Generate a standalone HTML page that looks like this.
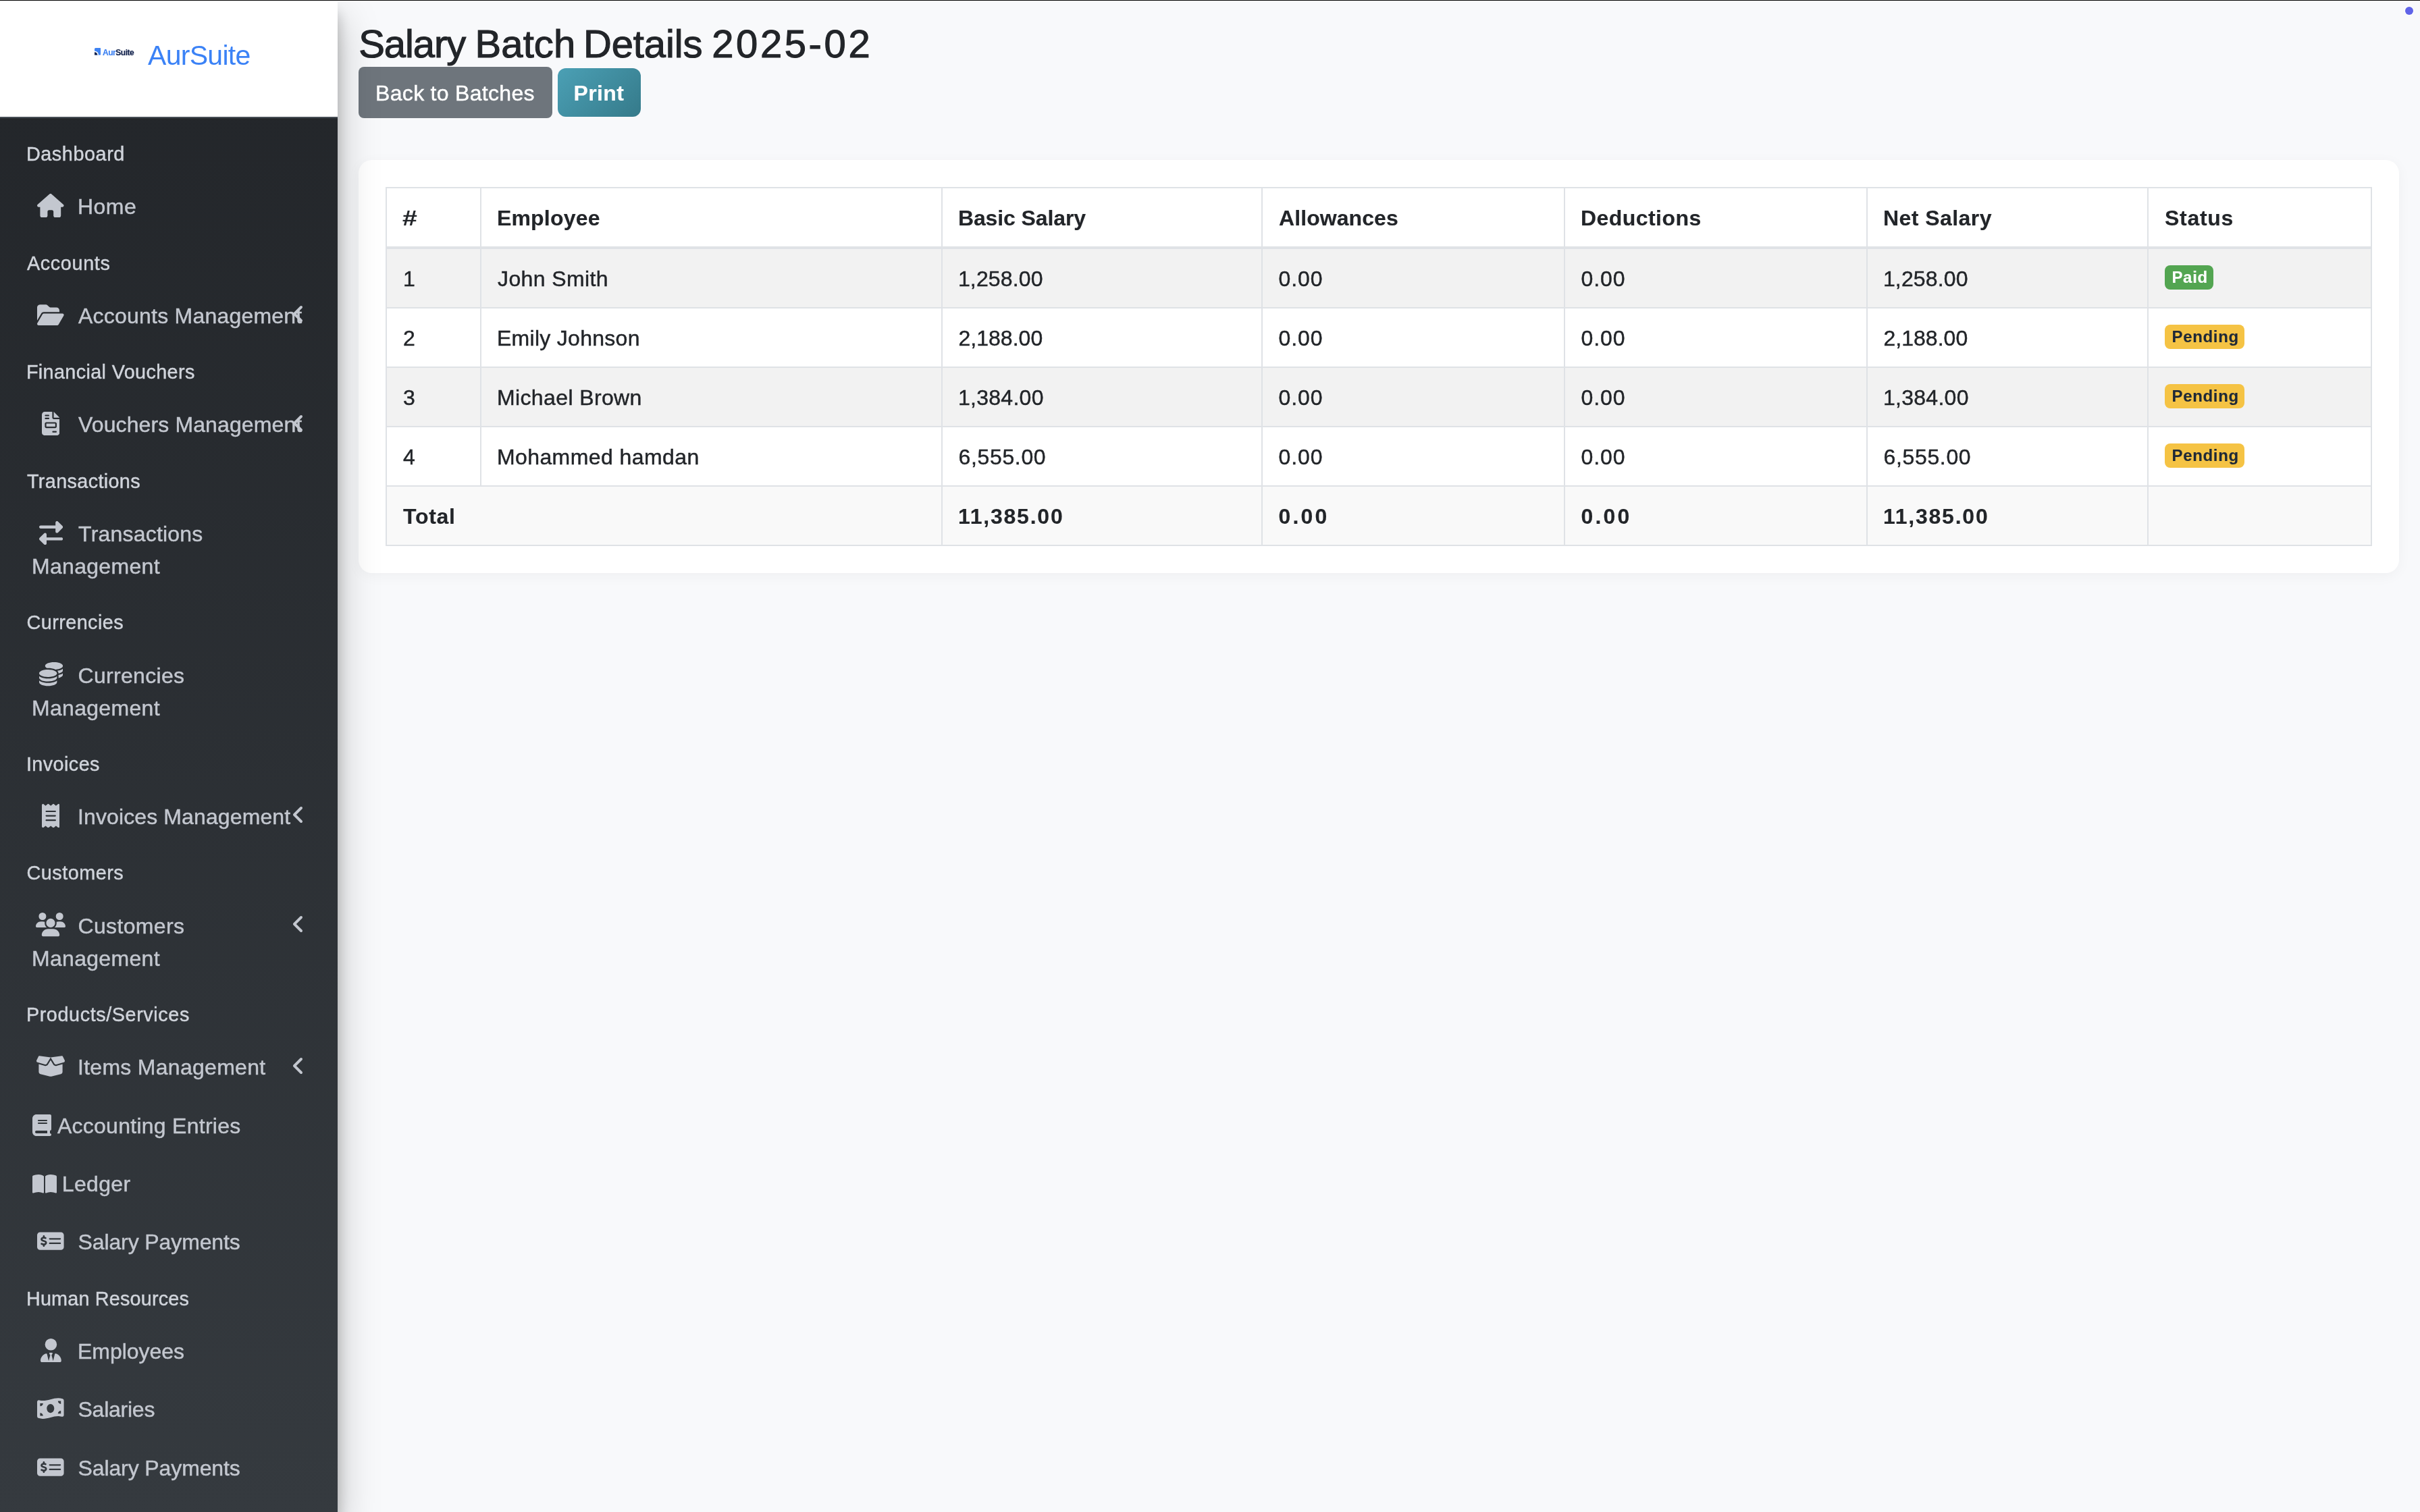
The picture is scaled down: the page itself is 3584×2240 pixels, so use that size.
<!DOCTYPE html>
<html lang="en"><head><meta charset="utf-8"><title>Salary Batch Details</title>
<style>
*{box-sizing:border-box}
html,body{margin:0;padding:0}
body{width:3584px;height:2240px;overflow:hidden;position:relative;background:#f8f9fb;font-family:"Liberation Sans",sans-serif;color:#222529;font-size:32px;line-height:48px;-webkit-text-stroke:.45px}
#topline{position:absolute;left:0;top:0;width:3584px;height:1px;background:#000;z-index:50}
#topline2{position:absolute;left:0;top:1px;width:3584px;height:1px;background:#fff;z-index:50}
aside{position:absolute;left:0;top:0;width:500px;height:2240px;background:linear-gradient(180deg,#222529 0%,#353a3f 100%);box-shadow:0 28px 56px rgba(0,0,0,.25),0 20px 20px rgba(0,0,0,.22);z-index:10}
.brand{position:relative;display:block;height:175px;background:linear-gradient(180deg,#fff 0,#fff 173px,#3f464e 173px,#3f464e 174px,#4d545b 174px,#4d545b 175px)}
.brand .logo{position:absolute;left:139.7px;top:71.4px;width:9.6px;height:10.6px}
.brand .logotxt{position:absolute;left:152px;top:67.5px;font-size:12px;line-height:20px;font-weight:bold;color:#0f1f4a;white-space:nowrap}
.brand .logotxt b{color:#3e82f2}
.brand .name{position:absolute;left:219px;top:51.5px;font-size:41px;line-height:60px;color:#3b82f6;white-space:nowrap}
nav{padding:15px 16px 0}
nav ul{list-style:none;margin:0;padding:0}
li.hd{height:75.2px;padding:17px 0 15px 24px;font-size:28.8px;line-height:43.2px;color:#d0d4db;white-space:nowrap}
li.it{margin-bottom:6.4px}
li.it a{display:block;position:relative;padding:17px 32px 15px;color:#c3c7cf;text-decoration:none;white-space:nowrap;line-height:48px}
li.it .ni{display:inline-block;width:51.2px;margin-left:1.6px;margin-right:6.4px;text-align:center;line-height:0}
li.it .ni svg{vertical-align:-5px}
li.it .pi svg{vertical-align:-4.5px}
li.it p{display:inline;margin:0}
li.it .ar{position:absolute;right:32px;top:22.4px;line-height:0}
main{position:absolute;left:531px;top:0;width:3022px}
h1 span{position:absolute;top:0}
h1{margin:0;position:absolute;left:0;top:29px;width:800px;height:72px;font-size:58px;line-height:72px;font-weight:normal;white-space:nowrap;-webkit-text-stroke:1.1px #222529}
.btn{position:absolute;display:block;text-align:center;color:#fff;white-space:nowrap;text-decoration:none}
.b1{left:0;top:99px;width:287px;height:76px;border-radius:8px;background:#6e757c;line-height:48px;padding-top:15px}
.b2{left:295px;top:101px;width:123px;height:72px;border-radius:12px;background:linear-gradient(135deg,#4ba0b5 0%,#357a8a 100%);font-weight:bold;line-height:48px;padding-top:13px}
.card{position:absolute;left:0;top:237px;width:3022px;height:612px;background:#fff;border-radius:20px;box-shadow:0 4px 20px rgba(0,0,0,.045);padding:40px}
table{border-collapse:separate;border-spacing:0;table-layout:fixed;width:2942px;margin:0}
th,td{border-left:2px solid #dfe2e6;border-bottom:2px solid #dfe2e6;padding:20px 24px 18px;text-align:left;white-space:nowrap;overflow:hidden;height:88px;line-height:48px;vertical-align:top}
th,tfoot td,.b2,.bdg,.logotxt{-webkit-text-stroke:.15px}
.brand .name{-webkit-text-stroke:0}
th{border-top:2px solid #dfe2e6;border-bottom-width:4px;padding:20px 24px 18px;height:92px;font-weight:bold}
th:last-child,td:last-child{border-right:2px solid #dfe2e6}
.hash{display:inline-block;transform:scaleX(1.22);transform-origin:0 50%;margin-left:-1px}
tbody tr:nth-child(odd) td{background:#f2f2f2}
tfoot td{background:#f9f9f9;font-weight:bold}
.bdg{display:inline-block;position:relative;top:-5px;height:36px;padding:6px 8.4px 6px 11px;border-radius:8px;font-size:24px;line-height:24px;font-weight:bold;vertical-align:baseline}
.bg-s{background:#53a551;color:#fff}
.bg-w{background:#f5c344;color:#1f2937}
main,aside{will-change:transform}
@media (width:1792px) and (min-resolution:2dppx){html{zoom:.5}}
#dot{position:absolute;left:3561.7px;top:9.7px;width:12.6px;height:12.6px;border-radius:50%;background:#5f63e8;box-shadow:0 0 2px 1px rgba(255,255,255,.85);z-index:60}
</style></head>
<body>
<div id="topline"></div><div id="topline2"></div>
<aside>
<a class="brand">
<svg class="logo" viewBox="0 0 96 106"><rect x="0" y="0" width="96" height="106" rx="16" fill="#3e82f2"/><path d="M0 46 A60 60 0 0 1 60 106 L0 106 Z" fill="#fff"/><path d="M0 62 A44 44 0 0 1 44 106 L0 106 Z" fill="#0f1f4a"/></svg>
<span class="logotxt" style="letter-spacing:-0.476px"><b>Aur</b>Suite</span>
<span class="name" style="letter-spacing:-.71px">AurSuite</span>
</a>
<nav><ul>
<li class="hd"><span style="letter-spacing:0.567px;margin-left:-1.1px">Dashboard</span></li>
<li class="it"><a><span class="ni"><svg class="" width="39.6" height="35.2" viewBox="0 0 576 512" style=""><path fill="currentColor" d="M575.8 255.5c0 18-15 32.1-32 32.1h-32l.7 160.2c0 2.7-.2 5.4-.5 8.1V472c0 22.1-17.9 40-40 40H456c-1.1 0-2.2 0-3.3-.1c-1.4 .1-2.8 .1-4.2 .1H416 392c-22.1 0-40-17.9-40-40V448 384c0-17.7-14.3-32-32-32H256c-17.7 0-32 14.3-32 32v64 24c0 22.1-17.9 40-40 40H160 128.1c-1.5 0-3-.1-4.5-.2c-1.2 .1-2.4 .2-3.600 .2H104c-22.1 0-40-17.900-40-40V360c0-.9 0-1.9 .1-2.8V287.6H32c-18 0-32-14-32-32.1c0-9 3-17 10-24L266.4 8c7-7 15-8 22-8s15 2 21 7L564.800 231.500c8 7 12 15 11 24z"/></svg></span> <p><span style="letter-spacing:0.479px;margin-left:-1.1px">Home</span></p></a></li>
<li class="hd"><span style="letter-spacing:0.621px">Accounts</span></li>
<li class="it"><a><span class="ni"><svg class="" width="39.6" height="35.2" viewBox="0 0 576 512" style=""><path fill="currentColor" d="M88.7 223.8L0 375.8V96C0 60.7 28.7 32 64 32H181.500c17 0 33.300 6.700 45.300 18.700l26.500 26.500c12 12 28.300 18.700 45.300 18.700H416c35.300 0 64 28.700 64 64v32H144c-22.800 0-43.800 12.100-55.300 31.800zm27.600 16.100C122.100 230 132.600 224 144 224H544c11.500 0 22 6.100 27.700 16.100s5.700 22.200-.1 32.100l-112 192C453.900 474 443.400 480 432 480H32c-11.500 0-22-6.100-27.700-16.100s-5.700-22.200 .1-32.100l112-192z"/></svg></span> <p><span style="letter-spacing:0.216px">Accounts Management</span></p><span class="ar"><svg class="" width="20.0" height="32" viewBox="0 0 320 512" style=""><path fill="currentColor" d="M41.400 233.400c-12.500 12.500-12.500 32.800 0 45.300l160 160c12.500 12.500 32.800 12.500 45.300 0s12.500-32.800 0-45.300L109.300 256 246.600 118.600c12.500-12.500 12.500-32.800 0-45.300s-32.800-12.500-45.300 0l-160 160z"/></svg></span></a></li>
<li class="hd"><span style="letter-spacing:0.358px;margin-left:-1.1px">Financial Vouchers</span></li>
<li class="it"><a><span class="ni"><svg class="" width="26.4" height="35.2" viewBox="0 0 384 512" style=""><path fill="currentColor" d="M64 0C28.7 0 0 28.7 0 64V448c0 35.300 28.700 64 64 64H320c35.300 0 64-28.700 64-64V160H256c-17.700 0-32-14.300-32-32V0H64zM256 0V128H384L256 0zM80 64h64c8.800 0 16 7.200 16 16s-7.200 16-16 16H80c-8.800 0-16-7.200-16-16s7.200-16 16-16zm0 64h64c8.800 0 16 7.200 16 16s-7.200 16-16 16H80c-8.800 0-16-7.200-16-16s7.200-16 16-16zm16 96H288c17.700 0 32 14.300 32 32v64c0 17.700-14.300 32-32 32H96c-17.700 0-32-14.300-32-32V256c0-17.700 14.300-32 32-32zm0 32v64H288V256H96zM240 416h64c8.800 0 16 7.200 16 16s-7.200 16-16 16H240c-8.800 0-16-7.200-16-16s7.200-16 16-16z"/></svg></span> <p><span style="letter-spacing:0.116px">Vouchers Management</span></p><span class="ar"><svg class="" width="20.0" height="32" viewBox="0 0 320 512" style=""><path fill="currentColor" d="M41.400 233.400c-12.500 12.500-12.500 32.800 0 45.300l160 160c12.500 12.500 32.800 12.500 45.300 0s12.500-32.800 0-45.300L109.300 256 246.600 118.600c12.500-12.500 12.500-32.800 0-45.300s-32.800-12.500-45.300 0l-160 160z"/></svg></span></a></li>
<li class="hd"><span style="letter-spacing:0.347px">Transactions</span></li>
<li class="it"><a><span class="ni"><svg class="" width="35.2" height="35.2" viewBox="0 0 512 512" style=""><path fill="currentColor" d="M32 96l320 0V32c0-12.900 7.800-24.600 19.800-29.600s25.700-2.200 34.900 6.900l96 96c6 6 9.400 14.100 9.400 22.600s-3.400 16.600-9.400 22.600l-96 96c-9.200 9.200-22.900 11.900-34.900 6.900s-19.800-16.600-19.800-29.600V160L32 160c-17.700 0-32-14.300-32-32s14.300-32 32-32zM480 352c17.700 0 32 14.300 32 32s-14.300 32-32 32H160v64c0 12.900-7.800 24.600-19.800 29.600s-25.700 2.200-34.900-6.900l-96-96c-6-6-9.400-14.100-9.400-22.600s3.400-16.600 9.400-22.600l96-96c9.200-9.200 22.900-11.900 34.900-6.900s19.800 16.600 19.800 29.600l0 64H480z"/></svg></span> <p><span style="letter-spacing:0.209px">Transactions</span><br><span style="letter-spacing:0.323px;margin-left:-1.1px">Management</span></p></a></li>
<li class="hd"><span style="letter-spacing:0.441px;margin-left:-0.55px">Currencies</span></li>
<li class="it"><a><span class="ni"><svg class="" width="35.2" height="35.2" viewBox="0 0 512 512" style=""><path fill="currentColor" d="M512 80c0 18-14.300 34.600-38.400 48c-29.100 16.100-72.500 27.500-122.300 30.900c-3.700-1.800-7.400-3.500-11.300-5C300.600 137.400 248.200 128 192 128c-8.300 0-16.400 .2-24.500 .6l-1.100-.6C142.300 114.600 128 98 128 80c0-44.200 86-80 192-80S512 35.800 512 80zM160.700 161.100c10.200-.7 20.700-1.100 31.300-1.100c62.200 0 117.400 12.300 152.500 31.400C369.300 204.900 384 221.700 384 240c0 4-.7 7.900-2.100 11.700c-4.600 13.200-17 25.300-35 35.500c0 0 0 0 0 0c-.1 .1-.3 .1-.4 .2l0 0 0 0c-.3 .2-.6 .3-.9 .5c-35 19.400-90.800 32-153.600 32c-59.600 0-112.900-11.300-148.200-29.100c-1.900-.9-3.700-1.900-5.500-2.900C14.300 274.600 0 258 0 240c0-34.800 53.400-64.500 128-75.400c10.500-1.500 21.400-2.700 32.700-3.500zM416 240c0-21.900-10.600-39.900-24.100-53.400c28.300-4.400 54.200-11.400 76.200-20.500c16.300-6.800 31.500-15.200 43.900-25.500V176c0 19.300-16.500 37.100-43.800 50.900c-14.600 7.400-32.400 13.700-52.400 18.500c.1-1.800 .2-3.500 .2-5.300zm-32 96c0 18-14.300 34.600-38.400 48c-1.800 1-3.600 1.900-5.500 2.900C304.900 404.700 251.600 416 192 416c-62.800 0-118.600-12.600-153.600-32C14.300 370.600 0 354 0 336V300.600c12.500 10.300 27.600 18.700 43.900 25.500C83.400 342.600 135.800 352 192 352s108.600-9.400 148.100-25.900c7.800-3.200 15.300-6.900 22.400-10.900c6.100-3.400 11.800-7.200 17.200-11.200c1.500-1.100 2.900-2.300 4.300-3.400V304v5.700V336zm32 0V304 278.100c19-4.200 36.500-9.500 52.100-16c16.300-6.800 31.500-15.200 43.900-25.500V272c0 10.500-5 21-14.900 30.900c-16.300 16.300-45 29.700-81.300 38.400c.1-1.700 .2-3.500 .2-5.300zM192 448c56.200 0 108.600-9.400 148.100-25.900c16.300-6.800 31.500-15.200 43.900-25.500V432c0 44.200-86 80-192 80S0 476.200 0 432V396.600c12.500 10.300 27.600 18.700 43.900 25.500C83.400 438.600 135.800 448 192 448z"/></svg></span> <p><span style="letter-spacing:0.309px;margin-left:-0.55px">Currencies</span><br><span style="letter-spacing:0.323px;margin-left:-1.1px">Management</span></p></a></li>
<li class="hd"><span style="letter-spacing:0.423px;margin-left:-1.1px">Invoices</span></li>
<li class="it"><a><span class="ni"><svg class="" width="26.4" height="35.2" viewBox="0 0 384 512" style=""><path fill="currentColor" d="M14 2.200C22.500-1.700 32.500-.3 39.600 5.800L80 40.400 120.400 5.800c9-7.700 22.300-7.700 31.200 0L192 40.400 232.400 5.800c9-7.700 22.300-7.700 31.200 0L304 40.400 344.400 5.800c7.100-6.100 17.100-7.500 25.600-3.600s14 12.400 14 21.800V488c0 9.400-5.500 17.900-14 21.800s-18.500 2.500-25.600-3.600L304 471.600l-40.400 34.600c-9 7.700-22.300 7.700-31.200 0L192 471.600l-40.400 34.600c-9 7.700-22.300 7.700-31.200 0L80 471.600 39.600 506.200c-7.100 6.100-17.100 7.500-25.600 3.600S0 497.400 0 488V24C0 14.600 5.500 6.100 14 2.200zM96 144c-8.800 0-16 7.200-16 16s7.200 16 16 16H288c8.800 0 16-7.200 16-16s-7.200-16-16-16H96zM80 352c0 8.800 7.200 16 16 16H288c8.800 0 16-7.200 16-16s-7.200-16-16-16H96c-8.800 0-16 7.200-16 16zM96 240c-8.800 0-16 7.200-16 16s7.200 16 16 16H288c8.800 0 16-7.200 16-16s-7.200-16-16-16H96z"/></svg></span> <p><span style="letter-spacing:0.118px;margin-left:-1.1px">Invoices Management</span></p><span class="ar"><svg class="" width="20.0" height="32" viewBox="0 0 320 512" style=""><path fill="currentColor" d="M41.400 233.400c-12.500 12.500-12.500 32.800 0 45.300l160 160c12.500 12.500 32.800 12.500 45.300 0s12.500-32.800 0-45.300L109.300 256 246.600 118.600c12.500-12.500 12.500-32.800 0-45.300s-32.800-12.500-45.300 0l-160 160z"/></svg></span></a></li>
<li class="hd"><span style="letter-spacing:0.498px;margin-left:-0.55px">Customers</span></li>
<li class="it"><a><span class="ni"><svg class="" width="44.0" height="35.2" viewBox="0 0 640 512" style=""><path fill="currentColor" d="M144 0a80 80 0 1 1 0 160A80 80 0 1 1 144 0zM512 0a80 80 0 1 1 0 160A80 80 0 1 1 512 0zM0 298.700C0 239.800 47.800 192 106.700 192h42.700c15.900 0 31 3.500 44.600 9.700c-1.300 7.200-1.900 14.700-1.900 22.300c0 38.200 16.800 72.500 43.300 96c-.2 0-.4 0-.7 0H21.300C9.600 320 0 310.400 0 298.700zM405.300 320c-.2 0-.4 0-.7 0c26.600-23.500 43.300-57.800 43.300-96c0-7.600-.7-15-1.900-22.300c13.600-6.300 28.700-9.700 44.600-9.700h42.700C592.200 192 640 239.800 640 298.700c0 11.800-9.600 21.300-21.300 21.300H405.300zM224 224a96 96 0 1 1 192 0 96 96 0 1 1 -192 0zM128 485.300C128 411.700 187.700 352 261.300 352H378.700C452.300 352 512 411.700 512 485.300c0 14.700-11.900 26.700-26.700 26.700H154.700c-14.700 0-26.700-11.900-26.700-26.700z"/></svg></span> <p><span style="letter-spacing:0.35px;margin-left:-0.55px">Customers</span><br><span style="letter-spacing:0.323px;margin-left:-1.1px">Management</span></p><span class="ar"><svg class="" width="20.0" height="32" viewBox="0 0 320 512" style=""><path fill="currentColor" d="M41.400 233.400c-12.500 12.500-12.500 32.800 0 45.300l160 160c12.500 12.500 32.800 12.500 45.300 0s12.500-32.800 0-45.300L109.300 256 246.600 118.600c12.500-12.500 12.500-32.800 0-45.300s-32.800-12.500-45.300 0l-160 160z"/></svg></span></a></li>
<li class="hd"><span style="letter-spacing:0.584px;margin-left:-1.1px">Products/Services</span></li>
<li class="it"><a><span class="ni"><svg class="" width="44.0" height="35.2" viewBox="0 0 640 512" style=""><path fill="currentColor" d="M58.900 42.100c3-6.100 9.600-9.600 16.300-8.700L320 64 564.800 33.400c6.700-.8 13.300 2.700 16.300 8.700l41.700 83.400c9 17.900-.6 39.600-19.800 45.100L439.600 217.300c-13.900 4-28.800-1.900-36.200-14.300L320 64 236.600 203c-7.400 12.400-22.300 18.300-36.200 14.300L37.100 170.600c-19.300-5.500-28.800-27.200-19.800-45.100L58.900 42.100zM321.100 128l54.900 91.400c14.900 24.800 44.600 36.600 72.500 28.600L576 211.600v167c0 22-15 41.200-36.400 46.600l-204.100 51c-10.200 2.600-20.900 2.600-31 0l-204.100-51C79 419.700 64 400.500 64 378.500v-167L191.600 248c27.800 8 57.600-3.800 72.500-28.600L318.900 128h2.200z"/></svg></span> <p><span style="letter-spacing:0.286px;margin-left:-1.1px">Items Management</span></p><span class="ar"><svg class="" width="20.0" height="32" viewBox="0 0 320 512" style=""><path fill="currentColor" d="M41.400 233.400c-12.500 12.500-12.500 32.800 0 45.300l160 160c12.500 12.500 32.800 12.500 45.300 0s12.500-32.800 0-45.300L109.300 256 246.600 118.600c12.500-12.500 12.500-32.800 0-45.300s-32.800-12.500-45.300 0l-160 160z"/></svg></span></a></li>
<li class="it"><a><span class="pi"><svg class="" width="28.0" height="32" viewBox="0 0 448 512" style=""><path fill="currentColor" d="M96 0C43 0 0 43 0 96V416c0 53 43 96 96 96H384h32c17.700 0 32-14.300 32-32s-14.300-32-32-32V384c17.700 0 32-14.300 32-32V32c0-17.700-14.300-32-32-32H384 96zm0 384H352v64H96c-17.700 0-32-14.300-32-32s14.300-32 32-32zm32-240c0-8.800 7.200-16 16-16H336c8.800 0 16 7.200 16 16s-7.200 16-16 16H144c-8.800 0-16-7.200-16-16zm16 48H336c8.800 0 16 7.200 16 16s-7.200 16-16 16H144c-8.800 0-16-7.200-16-16s7.200-16 16-16z"/></svg></span> <p><span style="letter-spacing:0.27px">Accounting Entries</span></p></a></li>
<li class="it"><a><span class="pi"><svg class="" width="36.0" height="32" viewBox="0 0 576 512" style=""><path fill="currentColor" d="M249.600 471.500c10.800 3.800 22.400-4.100 22.400-15.500V78.600c0-4.200-1.600-8.400-5-11C247.400 52 202.400 32 144 32C93.500 32 46.300 45.300 18.100 56.100C6.800 60.500 0 71.700 0 83.800V454.100c0 11.900 12.800 20.200 24.100 16.500C55.600 460.100 105.500 448 144 448c33.900 0 79 14 105.600 23.500zm76.800 0C353 462 398.100 448 432 448c38.500 0 88.400 12.100 119.900 22.600c11.300 3.800 24.100-4.600 24.100-16.500V83.800c0-12.100-6.800-23.300-18.100-27.600C529.700 45.300 482.500 32 432 32c-58.400 0-103.400 20-123 35.600c-3.300 2.600-5 6.800-5 11V456c0 11.400 11.700 19.300 22.400 15.500z"/></svg></span> <p><span style="letter-spacing:0.343px;margin-left:-1.1px">Ledger</span></p></a></li>
<li class="it"><a><span class="ni"><svg class="" width="39.6" height="35.2" viewBox="0 0 576 512" style=""><path fill="currentColor" d="M64 64C28.700 64 0 92.700 0 128V384c0 35.300 28.700 64 64 64H512c35.300 0 64-28.700 64-64V128c0-35.300-28.700-64-64-64H64zM272 192H496c8.800 0 16 7.200 16 16s-7.200 16-16 16H272c-8.800 0-16-7.200-16-16s7.200-16 16-16zM256 304c0-8.800 7.200-16 16-16H496c8.800 0 16 7.200 16 16s-7.200 16-16 16H272c-8.800 0-16-7.200-16-16zM164 152v13.900c7.500 1.200 14.600 2.900 21.100 4.700c10.700 2.800 17 13.800 14.200 24.500s-13.800 17-24.500 14.200c-11-2.900-21.600-5-31.200-5.200c-7.900-.1-16 1.800-21.500 5c-4.800 2.800-6.200 5.600-6.200 9.300c0 1.800 .1 3.500 5.300 6.700c6.300 3.800 15.500 6.700 28.300 10.500l.7 .2c11.200 3.400 25.600 7.700 37.100 15c12.900 8.100 24.300 21.300 24.600 41.600c.3 20.900-10.500 36.100-24.800 45c-7.200 4.500-15.200 7.300-23.200 9V360c0 11-9 20-20 20s-20-9-20-20V345.400c-10.300-2.200-20-5.500-28.200-8.400l0 0 0 0c-2.100-.7-4.100-1.400-6.100-2.100c-10.500-3.500-16.100-14.800-12.600-25.300s14.800-16.100 25.300-12.600c2.500 .8 4.900 1.700 7.200 2.400c13.600 4.600 24 8.100 35.100 8.500c8.600 .3 16.500-1.600 21.400-4.700c4.100-2.500 6-5.500 5.900-10.500c0-2.900-.8-5-5.900-8.200c-6.300-4-15.400-6.900-28-10.700l-1.700-.5c-10.900-3.300-24.600-7.400-35.600-14c-12.700-7.700-24.600-20.500-24.700-40.700c-.1-21.100 11.800-35.700 25.800-43.900c6.900-4.100 14.500-6.800 22.200-8.500V152c0-11 9-20 20-20s20 9 20 20z"/></svg></span> <p><span style="letter-spacing:-0.112px;margin-left:-0.55px">Salary Payments</span></p></a></li>
<li class="hd"><span style="letter-spacing:0.173px;margin-left:-1.1px">Human Resources</span></li>
<li class="it"><a><span class="ni"><svg class="" width="30.8" height="35.2" viewBox="0 0 448 512" style=""><path fill="currentColor" d="M96 128a128 128 0 1 0 256 0A128 128 0 1 0 96 128zm94.500 200.200l18.600 31L175.800 483.100l-36-146.900c-2-8.100-9.800-13.400-17.900-11.300C51.900 342.400 0 405.800 0 481.300c0 17 13.800 30.700 30.700 30.700H162.500c0 0 0 0 .1 0H168 280h5.500c0 0 0 0 .1 0H417.300c17 0 30.700-13.800 30.700-30.700c0-75.500-51.900-138.900-121.900-156.400c-8.100-2-15.900 3.300-17.900 11.300l-36 146.900L238.900 359.200l18.600-31c6.400-10.700-1.300-24.200-13.700-24.200H224 204.300c-12.400 0-20.100 13.600-13.700 24.200z"/></svg></span> <p><span style="letter-spacing:-0.025px;margin-left:-1.1px">Employees</span></p></a></li>
<li class="it"><a><span class="ni"><svg class="" width="39.6" height="35.2" viewBox="0 0 576 512" style=""><path fill="currentColor" d="M0 112.500V422.300c0 18 10.100 35 27 41.300c87 32.500 174 10.300 261-11.900c79.800-20.300 159.600-40.700 239.300-18.900c23 6.300 48.700-9.500 48.700-33.400V89.700c0-18-10.100-35-27-41.300C462 15.900 375 38.100 288 60.300C208.200 80.600 128.400 100.900 48.700 79.100C25.600 72.800 0 88.600 0 112.500zM288 352c-44.200 0-80-43-80-96s35.800-96 80-96s80 43 80 96s-35.800 96-80 96zM64 352c35.300 0 64 28.700 64 64H64V352zm64-208c0 35.300-28.700 64-64 64V144h64zM512 304v64H448c0-35.300 28.700-64 64-64zM448 96h64v64c-35.300 0-64-28.700-64-64z"/></svg></span> <p><span style="letter-spacing:-0.244px;margin-left:-0.55px">Salaries</span></p></a></li>
<li class="it"><a><span class="ni"><svg class="" width="39.6" height="35.2" viewBox="0 0 576 512" style=""><path fill="currentColor" d="M64 64C28.700 64 0 92.700 0 128V384c0 35.300 28.700 64 64 64H512c35.300 0 64-28.700 64-64V128c0-35.300-28.700-64-64-64H64zM272 192H496c8.800 0 16 7.200 16 16s-7.200 16-16 16H272c-8.800 0-16-7.200-16-16s7.200-16 16-16zM256 304c0-8.800 7.200-16 16-16H496c8.800 0 16 7.200 16 16s-7.200 16-16 16H272c-8.800 0-16-7.200-16-16zM164 152v13.900c7.500 1.200 14.600 2.900 21.100 4.700c10.700 2.800 17 13.800 14.200 24.500s-13.800 17-24.500 14.200c-11-2.900-21.600-5-31.200-5.200c-7.900-.1-16 1.800-21.500 5c-4.800 2.800-6.200 5.600-6.200 9.300c0 1.800 .1 3.500 5.300 6.700c6.300 3.800 15.500 6.700 28.300 10.500l.7 .2c11.200 3.400 25.600 7.700 37.100 15c12.900 8.100 24.300 21.300 24.600 41.600c.3 20.900-10.500 36.100-24.800 45c-7.200 4.500-15.200 7.300-23.200 9V360c0 11-9 20-20 20s-20-9-20-20V345.400c-10.300-2.200-20-5.500-28.200-8.400l0 0 0 0c-2.100-.7-4.100-1.400-6.100-2.100c-10.500-3.500-16.100-14.800-12.600-25.300s14.800-16.100 25.300-12.600c2.500 .8 4.900 1.700 7.200 2.400c13.600 4.600 24 8.100 35.100 8.500c8.600 .3 16.500-1.600 21.400-4.700c4.100-2.500 6-5.500 5.900-10.500c0-2.900-.8-5-5.900-8.200c-6.300-4-15.400-6.900-28-10.700l-1.700-.5c-10.900-3.300-24.600-7.400-35.600-14c-12.700-7.700-24.600-20.500-24.700-40.700c-.1-21.100 11.800-35.700 25.800-43.900c6.900-4.100 14.500-6.800 22.200-8.500V152c0-11 9-20 20-20s20 9 20 20z"/></svg></span> <p><span style="letter-spacing:-0.112px;margin-left:-0.55px">Salary Payments</span></p></a></li>
</ul></nav>
</aside>
<main>
<h1><span style="left:0.2px;letter-spacing:-1.08px">Salary</span> <span style="left:172.6px;letter-spacing:.06px">Batch</span> <span style="left:332.9px;letter-spacing:-.12px">Details</span> <span style="left:523.2px;letter-spacing:3.6px">2025-02</span></h1>
<a class="btn b1"><span style="letter-spacing:0.298px;margin-left:-1.1px">Back to Batches</span></a>
<a class="btn b2"><span style="letter-spacing:0.366px;margin-left:-1.1px">Print</span></a>
<div class="card">
<table>
<colgroup><col style="width:140px"><col style="width:683px"><col style="width:474px"><col style="width:448px"><col style="width:448px"><col style="width:416px"><col style="width:333px"></colgroup>
<thead><tr><th><span class="hash">#</span></th><th><span style="letter-spacing:0.204px;margin-left:-1.1px">Employee</span></th><th><span style="letter-spacing:-0.106px;margin-left:-1.1px">Basic Salary</span></th><th><span style="letter-spacing:0.082px">Allowances</span></th><th><span style="letter-spacing:0.451px;margin-left:-1.1px">Deductions</span></th><th><span style="letter-spacing:0.452px;margin-left:-1.1px">Net Salary</span></th><th><span style="letter-spacing:0.7px">Status</span></th></tr></thead>
<tbody><tr><td>1</td><td><span style="letter-spacing:0.38px">John Smith</span></td><td><span style="letter-spacing:0.148px;margin-left:-1.1px">1,258.00</span></td><td><span style="letter-spacing:0.939px;margin-left:-0.55px">0.00</span></td><td><span style="letter-spacing:0.939px;margin-left:-0.55px">0.00</span></td><td><span style="letter-spacing:0.148px;margin-left:-1.1px">1,258.00</span></td><td><span class="bdg bg-s"><span style="letter-spacing:0.659px;margin-left:-0.55px">Paid</span></span></td></tr><tr><td>2</td><td><span style="letter-spacing:0.292px;margin-left:-1.1px">Emily Johnson</span></td><td><span style="letter-spacing:0.033px;margin-left:-0.55px">2,188.00</span></td><td><span style="letter-spacing:0.939px;margin-left:-0.55px">0.00</span></td><td><span style="letter-spacing:0.939px;margin-left:-0.55px">0.00</span></td><td><span style="letter-spacing:0.033px;margin-left:-0.55px">2,188.00</span></td><td><span class="bdg bg-w"><span style="letter-spacing:0.666px;margin-left:-0.55px">Pending</span></span></td></tr><tr><td>3</td><td><span style="letter-spacing:0.386px;margin-left:-1.1px">Michael Brown</span></td><td><span style="letter-spacing:0.291px;margin-left:-1.1px">1,384.00</span></td><td><span style="letter-spacing:0.939px;margin-left:-0.55px">0.00</span></td><td><span style="letter-spacing:0.939px;margin-left:-0.55px">0.00</span></td><td><span style="letter-spacing:0.291px;margin-left:-1.1px">1,384.00</span></td><td><span class="bdg bg-w"><span style="letter-spacing:0.666px;margin-left:-0.55px">Pending</span></span></td></tr><tr><td>4</td><td><span style="letter-spacing:0.415px;margin-left:-1.1px">Mohammed hamdan</span></td><td><span style="letter-spacing:0.662px;margin-left:-0.55px">6,555.00</span></td><td><span style="letter-spacing:0.939px;margin-left:-0.55px">0.00</span></td><td><span style="letter-spacing:0.939px;margin-left:-0.55px">0.00</span></td><td><span style="letter-spacing:0.662px;margin-left:-0.55px">6,555.00</span></td><td><span class="bdg bg-w"><span style="letter-spacing:0.666px;margin-left:-0.55px">Pending</span></span></td></tr></tbody>
<tfoot><tr><td colspan="2"><span style="letter-spacing:0.707px">Total</span></td><td><span style="letter-spacing:1.775px;margin-left:-1.1px">11,385.00</span></td><td><span style="letter-spacing:3.172px;margin-left:-0.55px">0.00</span></td><td><span style="letter-spacing:3.172px;margin-left:-0.55px">0.00</span></td><td><span style="letter-spacing:1.775px;margin-left:-1.1px">11,385.00</span></td><td></td></tr></tfoot>
</table>
</div>
</main>
<div id="dot"></div>
</body></html>
